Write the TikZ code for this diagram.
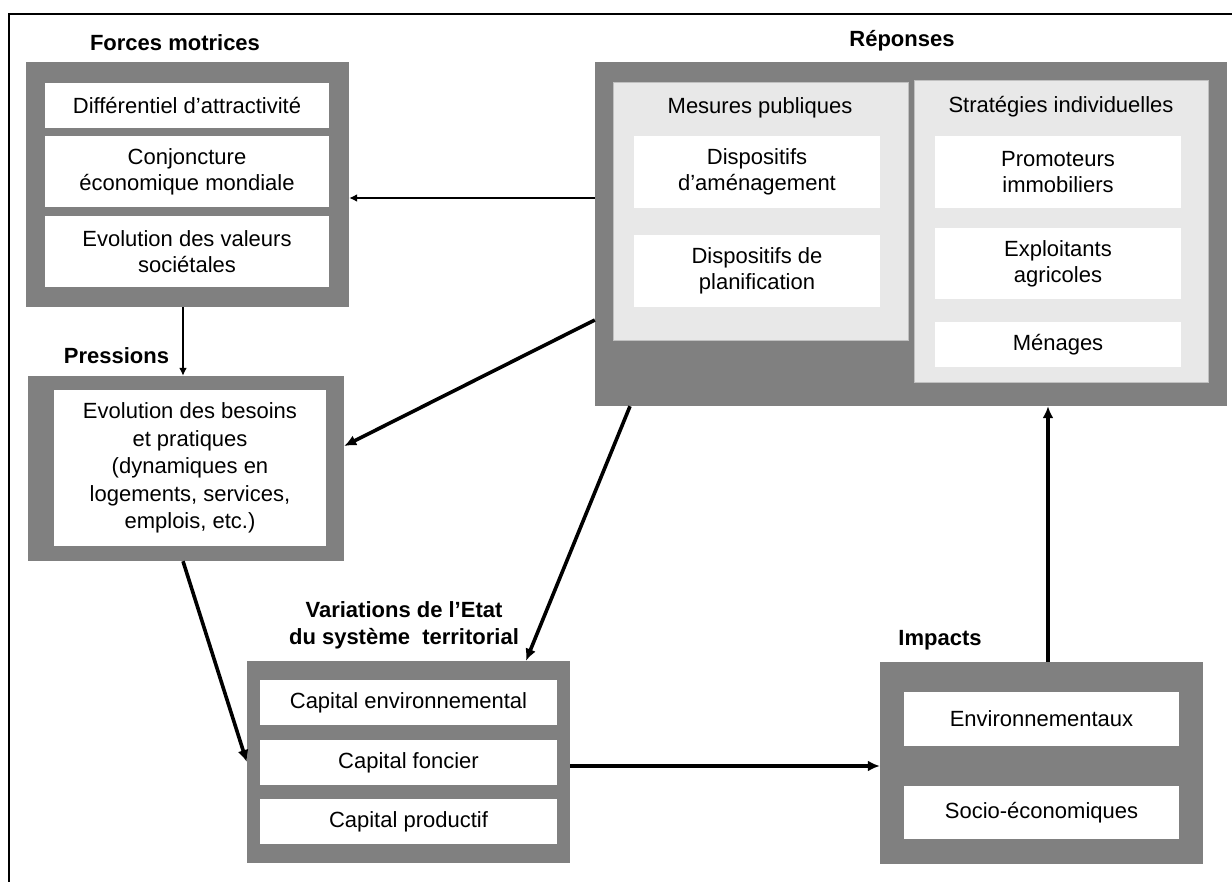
\documentclass[tikz,border=0pt]{standalone}
\usepackage{fontspec}
\setmainfont{Liberation Sans}
\usetikzlibrary{arrows.meta,calc}
\definecolor{boxgray}{RGB}{128,128,128}
\definecolor{panelgray}{RGB}{232,232,232}
\definecolor{panelline}{RGB}{192,192,192}

\begin{document}
\begin{tikzpicture}[x=1pt,y=-1pt,
  font=\fontsize{22}{26}\selectfont,
  cadre/.style={fill=boxgray,inner sep=0pt},
  panneau/.style={fill=panelgray,draw=panelline,line width=1pt,inner sep=0pt},
  case/.style={fill=white,inner sep=0pt,align=center},
  titre/.style={font=\fontsize{22}{27}\selectfont\bfseries,align=center},
  fleche/.style={line width=1.8pt,-{Latex[length=8pt,width=8pt]}},
  grossefleche/.style={line width=3.6pt,-{Latex[length=12pt,width=11pt]}}]

\useasboundingbox (0,0) rectangle (1232,882);

% ---- frame (top and left edges only) ----
\draw[line width=1.6pt] (1232,14) -- (9,14) -- (9,882);

% ---- Forces motrices ----
\node[titre] (tforces) at (175,43) {Forces motrices};
\node[cadre,minimum width=323pt,minimum height=245pt] (forces) at (187.5,184.5) {};
\node[case,minimum width=284pt,minimum height=45pt] (diff) at (187,105.5) {Différentiel d’attractivité};
\node[case,minimum width=284pt,minimum height=71pt] (conj) at (187,171.5) {Conjoncture\\économique mondiale};
\node[case,minimum width=284pt,minimum height=71pt] (valeurs) at (187,251.5) {Evolution des valeurs\\sociétales};

% ---- Pressions ----
\node[titre] (tpressions) at (116.5,356) {Pressions};
\node[cadre,minimum width=316pt,minimum height=185pt] (pressions) at (186,468.5) {};
\node[case,minimum width=272pt,minimum height=156pt,font=\fontsize{22}{27.5}\selectfont] (besoins) at (190,468)
  {Evolution des besoins\\et pratiques\\(dynamiques en\\logements, services,\\emplois, etc.)};

% ---- Reponses ----
\node[titre] (treponses) at (902,41) {Réponses};
\node[cadre,minimum width=632pt,minimum height=344pt] (reponses) at (911,234) {};
% public measures
\node[panneau,minimum width=295pt,minimum height=258pt] (mesures) at (760.5,212) {};
\node (tmesures) at (760,108) {Mesures publiques};
\node[case,minimum width=246pt,minimum height=72pt] (amenag) at (757,172) {Dispositifs\\d’aménagement};
\node[case,minimum width=246pt,minimum height=72pt] (planif) at (757,271) {Dispositifs de\\planification};
% individual strategies
\node[panneau,minimum width=294pt,minimum height=302pt] (strateg) at (1061,232) {};
\node (tstrateg) at (1061,107) {Stratégies individuelles};
\node[case,minimum width=246pt,minimum height=72pt] (promo) at (1058,172) {Promoteurs\\immobiliers};
\node[case,minimum width=246pt,minimum height=71pt] (exploit) at (1058,263.5) {Exploitants\\agricoles};
\node[case,minimum width=246pt,minimum height=45pt] (menages) at (1058,344.5) {Ménages};

% ---- Variations de l'Etat ----
\node[titre] (tetat) at (404,625.5) {Variations de l’Etat\\du système\ \ territorial};
\node[cadre,minimum width=323pt,minimum height=202pt] (etat) at (408.5,762) {};
\node[case,minimum width=297pt,minimum height=45pt] (capenv) at (408.5,702.5) {Capital environnemental};
\node[case,minimum width=297pt,minimum height=45pt] (capfonc) at (408.5,762.5) {Capital foncier};
\node[case,minimum width=297pt,minimum height=45pt] (capprod) at (408.5,821.5) {Capital productif};

% ---- Impacts ----
\node[titre] (timpacts) at (940,640) {Impacts};
\node[cadre,minimum width=323pt,minimum height=202pt] (impacts) at (1041.5,763) {};
\node[case,minimum width=275pt,minimum height=54pt] (envir) at (1041.5,719) {Environnementaux};
\node[case,minimum width=275pt,minimum height=53pt] (socio) at (1041.5,812.5) {Socio-économiques};

% ---- arrows ----
\draw[fleche] (reponses.west |- 0,198) -- (forces.east |- 0,198);
\draw[fleche] (forces.south -| 183,0) -- (pressions.north -| 183,0);
\draw[grossefleche] (reponses.west |- 0,320) -- (pressions.east |- 0,446);
\draw[grossefleche] (pressions.south -| 183,0) -- (etat.west |- 0,762);
\draw[grossefleche] (reponses.south -| 630,0) -- (etat.north -| 526,0);
\draw[grossefleche] (etat.east |- 0,766) -- (impacts.west |- 0,766);
\draw[grossefleche] (impacts.north -| 1048,0) -- (reponses.south -| 1048,0);

\end{tikzpicture}
\end{document}
